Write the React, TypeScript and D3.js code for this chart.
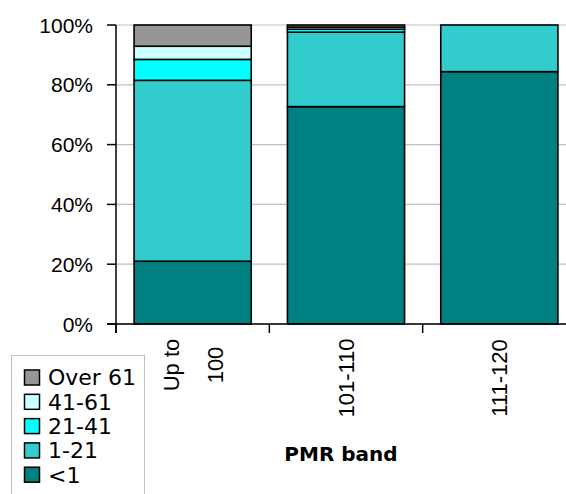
import React from "react";
import * as d3 from "d3";

const categories = ["Up to\n100", "101-110", "111-120"];
const seriesNames = ["<1", "1-21", "21-41", "41-61", "Over 61"];
const seriesColors = ["#008080", "#33CCCC", "#00FFFF", "#CCFFFF", "#969696"];
const lt1 = [21.0, 72.7, 84.4];
const s1to21 = [60.5, 24.9, 15.6];
const s21to41 = [7.0, 1.0, 0];
const s41to61 = [4.4, 0.7, 0];
const over61 = [7.1, 0.7, 0];
const yTicks = [0, 20, 40, 60, 80, 100];
const xTitle = "PMR band";

const W = 566;
const H = 494;
const left = 116;
const top = 25;
const bottom = 324;
const right = 576;

export default function App() {
  const values = [lt1, s1to21, s21to41, s41to61, over61];
  const x = d3
    .scaleBand<string>()
    .domain(categories)
    .range([left, right])
    .paddingInner(0.236)
    .paddingOuter(0.118);
  const y = d3.scaleLinear().domain([0, 100]).range([bottom, top]);

  const rows = categories.map((c, i) => {
    const r: any = { cat: c };
    seriesNames.forEach((s, j) => (r[s] = values[j][i]));
    return r;
  });
  const stacked = d3.stack().keys(seriesNames)(rows);

  const step = x.step();
  const boundaries = d3.range(categories.length + 1).map((i) => left + i * step);

  const labelCenters = [365, 378, 378];

  return (
    <svg
      width={W}
      height={H}
      style={{ position: "fixed", left: 0, top: 0, background: "#fff" }}
    >
      <rect x={0} y={0} width={W} height={H} fill="#fff" />
      {yTicks.map((t) => (
        <line
          key={"g" + t}
          x1={left}
          x2={W}
          y1={y(t)}
          y2={y(t)}
          stroke="#c0c0c0"
          strokeWidth={1.2}
        />
      ))}
      {stacked.map((layer, j) => (
        <g key={layer.key} fill={seriesColors[j]}>
          {layer.map((d, i) =>
            d[1] - d[0] > 0 ? (
              <rect
                key={i}
                x={x(categories[i])!}
                width={x.bandwidth()}
                y={y(d[1])}
                height={y(d[0]) - y(d[1])}
                stroke="#000"
                strokeWidth={1.6}
              />
            ) : null
          )}
        </g>
      ))}
      {/* y axis */}
      <line x1={left} x2={left} y1={top} y2={bottom + 9} stroke="#000" strokeWidth={1.5} />
      {yTicks.map((t) => (
        <g key={"t" + t}>
          <line x1={left - 9} x2={left} y1={y(t)} y2={y(t)} stroke="#000" strokeWidth={1.5} />
          <text
            x={left - 23}
            y={y(t)}
            dy="0.36em"
            textAnchor="end"
            fontFamily="'Liberation Sans', Arial, sans-serif"
            fontSize={21}
            fill="#000"
          >
            {t + "%"}
          </text>
        </g>
      ))}
      {/* x axis */}
      <line x1={left - 9} x2={W} y1={bottom} y2={bottom} stroke="#000" strokeWidth={1.5} />
      {boundaries.map((b, i) => (
        <line key={"xb" + i} x1={b} x2={b} y1={bottom} y2={bottom + 9} stroke="#000" strokeWidth={1.5} />
      ))}
      {categories.map((c, i) => {
        const lines = c.split("\n");
        const cx = x(c)! + x.bandwidth() / 2;
        const cy = labelCenters[i];
        const pitch = 44;
        return (
          <text
            key={"xl" + i}
            transform={`translate(${cx},${cy}) rotate(-90)`}
            textAnchor="middle"
            fontFamily="'Liberation Sans', Arial, sans-serif"
            fontSize={22}
            fill="#000"
          >
            {lines.map((l, k) => (
              <tspan
                key={k}
                x={0}
                y={(k - (lines.length - 1) / 2) * pitch}
                dy="0.36em"
              >
                {l}
              </tspan>
            ))}
          </text>
        );
      })}
      <text
        x={341}
        y={454}
        dy="0.36em"
        textAnchor="middle"
        fontFamily="'DejaVu Sans', Verdana, sans-serif"
        fontWeight="bold"
        fontSize={20}
        fill="#000"
      >
        {xTitle}
      </text>
      {/* legend */}
      <rect x={11.5} y={355.5} width={133} height={150} fill="#fff" stroke="#c0c0c0" />
      {seriesNames
        .slice()
        .reverse()
        .map((s, k) => {
          const j = seriesNames.length - 1 - k;
          const cy = 377.5 + k * 24.3;
          return (
            <g key={"lg" + s}>
              <rect
                x={24.5}
                y={cy - 7.5}
                width={15}
                height={15}
                fill={seriesColors[j]}
                stroke="#000"
                strokeWidth={1.5}
              />
              <text
                x={48}
                y={cy}
                dy="0.36em"
                fontFamily="'DejaVu Sans', Verdana, sans-serif"
                fontSize={22}
                fill="#000"
              >
                {s}
              </text>
            </g>
          );
        })}
    </svg>
  );
}
